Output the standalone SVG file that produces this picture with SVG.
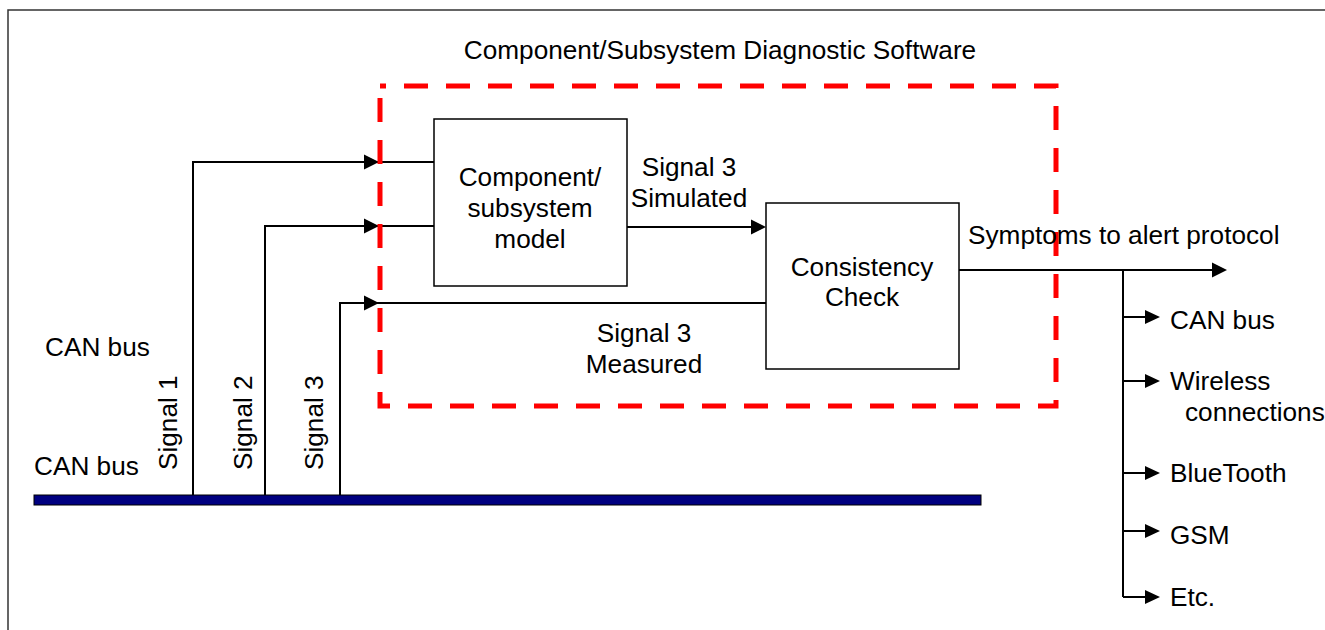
<svg xmlns="http://www.w3.org/2000/svg" width="1325" height="630" viewBox="0 0 1325 630">
<defs>
<style>
text{font-family:"Liberation Sans",Arial,sans-serif;font-size:26.2px;fill:#000}
.m{text-anchor:middle}
.ln{fill:none;stroke:#000;stroke-width:2}
.box{fill:#fff;stroke:#000;stroke-width:1.5}
.ah{fill:#000;stroke:none}
</style>
</defs>
<rect x="8" y="10" width="1330" height="640" fill="#fff" stroke="#333" stroke-width="1.5"/>
<g id="frame-label"><text class="m" x="720" y="59">Component/Subsystem Diagnostic Software</text></g>
<g id="can-bus">
<rect x="34" y="495" width="947" height="10" fill="#000080" stroke="#000" stroke-width="1"/>
<text x="34" y="475">CAN bus</text>
</g>
<g id="can-bus-label"><text x="45" y="356">CAN bus</text></g>
<g id="connectors">
<polyline class="ln" points="193,495 193,162 434,162"/>
<polyline class="ln" points="265,495 265,226 434,226"/>
<polyline class="ln" points="340,495 340,303 766,303"/>
<polygon class="ah" points="379,162 364,154.5 364,169.5"/>
<polygon class="ah" points="379,226 364,218.5 364,233.5"/>
<polygon class="ah" points="379,303 364,295.5 364,310.5"/>
<line class="ln" x1="627" y1="227" x2="752" y2="227"/>
<polygon class="ah" points="766,227 751,219.5 751,234.5"/>
<line class="ln" x1="959" y1="270" x2="1213" y2="270"/>
<polygon class="ah" points="1227,270 1212,262.5 1212,277.5"/>
<line class="ln" x1="1123" y1="270" x2="1123" y2="597"/>
<line class="ln" x1="1123" y1="317" x2="1147" y2="317"/>
<polygon class="ah" points="1160,317 1145,310 1145,324"/>
<line class="ln" x1="1123" y1="381" x2="1147" y2="381"/>
<polygon class="ah" points="1160,381 1145,374 1145,388"/>
<line class="ln" x1="1123" y1="473" x2="1147" y2="473"/>
<polygon class="ah" points="1160,473 1145,466 1145,480"/>
<line class="ln" x1="1123" y1="531" x2="1147" y2="531"/>
<polygon class="ah" points="1160,531 1145,524 1145,538"/>
<line class="ln" x1="1123" y1="597" x2="1147" y2="597"/>
<polygon class="ah" points="1160,597 1145,590 1145,604"/>
</g>
<g id="signal-labels">
<text transform="translate(177,470) rotate(-90)">Signal 1</text>
<text transform="translate(252,470) rotate(-90)">Signal 2</text>
<text transform="translate(323,470) rotate(-90)">Signal 3</text>
<text class="m" x="689" y="176">Signal 3</text>
<text class="m" x="689" y="207">Simulated</text>
<text class="m" x="644" y="342">Signal 3</text>
<text class="m" x="644" y="373">Measured</text>
</g>
<g id="model">
<rect class="box" x="434" y="119" width="193" height="167"/>
<text class="m" x="530" y="186">Component/</text>
<text class="m" x="530" y="217">subsystem</text>
<text class="m" x="530" y="248">model</text>
</g>
<g id="consistency">
<rect class="box" x="766" y="203" width="193" height="166"/>
<text class="m" x="862" y="276">Consistency</text>
<text class="m" x="862" y="306">Check</text>
</g>
<g id="software-boundary">
<path d="M380,86 L380,406 L1056,406 L1056,86 Z" fill="none" stroke="#ff0000" stroke-width="5" stroke-dasharray="24 18" stroke-dashoffset="30"/>
</g>
<g id="outputs">
<text x="968" y="244">Symptoms to alert protocol</text>
<text x="1170" y="329">CAN bus</text>
<text x="1170" y="390">Wireless</text>
<text x="1185" y="421">connections</text>
<text x="1170" y="482">BlueTooth</text>
<text x="1170" y="544">GSM</text>
<text x="1170" y="606">Etc.</text>
</g>
</svg>
